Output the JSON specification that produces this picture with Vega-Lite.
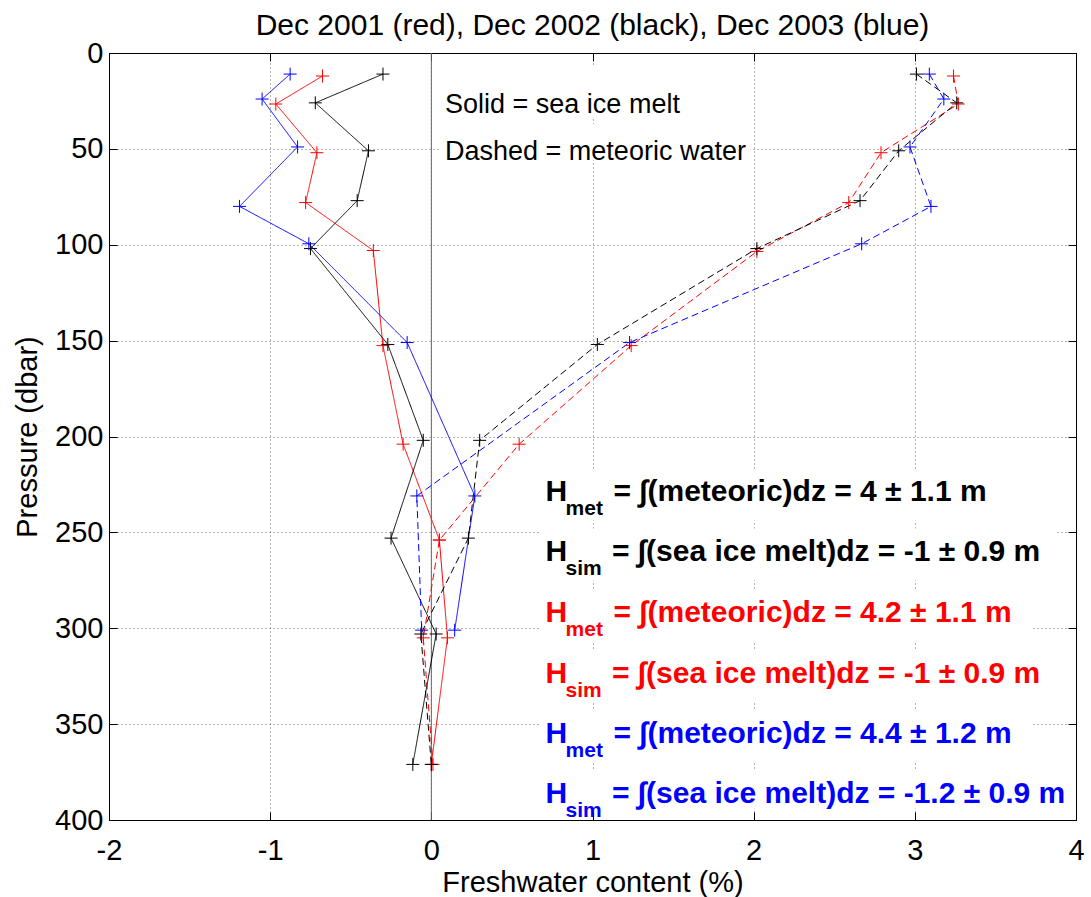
{
  "$schema": "https://vega.github.io/schema/vega-lite/v6.json",
  "width": 967,
  "height": 767,
  "autosize": {"type": "none"},
  "padding": {"left": 109, "top": 53, "right": 15, "bottom": 77},
  "background": "white",
  "title": {"text": "Dec 2001 (red), Dec 2002 (black), Dec 2003 (blue)", "fontSize": 30, "font": "Liberation Sans", "fontWeight": "normal", "color": "black", "offset": -2, "anchor": "middle"},
  "config": {"view": {"stroke": "black", "strokeWidth": 1}, "font": "Liberation Sans"},
  "datasets": {
    "prof": [
      {"yr": "2001", "k": "sim", "p": 12, "f": -0.675},
      {"yr": "2001", "k": "sim", "p": 26.6, "f": -0.965},
      {"yr": "2001", "k": "sim", "p": 52, "f": -0.71},
      {"yr": "2001", "k": "sim", "p": 78, "f": -0.78},
      {"yr": "2001", "k": "sim", "p": 103, "f": -0.36},
      {"yr": "2001", "k": "sim", "p": 152.6, "f": -0.30},
      {"yr": "2001", "k": "sim", "p": 204, "f": -0.175},
      {"yr": "2001", "k": "sim", "p": 254, "f": 0.05},
      {"yr": "2001", "k": "sim", "p": 305, "f": 0.10},
      {"yr": "2001", "k": "sim", "p": 371, "f": 0.0},
      {"yr": "2001", "k": "met", "p": 12, "f": 3.24},
      {"yr": "2001", "k": "met", "p": 26.6, "f": 3.27},
      {"yr": "2001", "k": "met", "p": 52, "f": 2.79},
      {"yr": "2001", "k": "met", "p": 78, "f": 2.59},
      {"yr": "2001", "k": "met", "p": 103.5, "f": 2.02},
      {"yr": "2001", "k": "met", "p": 152.6, "f": 1.24},
      {"yr": "2001", "k": "met", "p": 204, "f": 0.545},
      {"yr": "2001", "k": "met", "p": 254, "f": 0.05},
      {"yr": "2001", "k": "met", "p": 305, "f": -0.05},
      {"yr": "2001", "k": "met", "p": 371, "f": 0.01},
      {"yr": "2002", "k": "sim", "p": 11, "f": -0.30},
      {"yr": "2002", "k": "sim", "p": 26, "f": -0.72},
      {"yr": "2002", "k": "sim", "p": 51, "f": -0.39},
      {"yr": "2002", "k": "sim", "p": 77, "f": -0.46},
      {"yr": "2002", "k": "sim", "p": 102, "f": -0.75},
      {"yr": "2002", "k": "sim", "p": 152, "f": -0.27},
      {"yr": "2002", "k": "sim", "p": 202, "f": -0.05},
      {"yr": "2002", "k": "sim", "p": 253, "f": -0.25},
      {"yr": "2002", "k": "sim", "p": 303, "f": 0.03},
      {"yr": "2002", "k": "sim", "p": 371, "f": -0.115},
      {"yr": "2002", "k": "met", "p": 11, "f": 3.01},
      {"yr": "2002", "k": "met", "p": 26, "f": 3.26},
      {"yr": "2002", "k": "met", "p": 51, "f": 2.90},
      {"yr": "2002", "k": "met", "p": 77, "f": 2.66},
      {"yr": "2002", "k": "met", "p": 102, "f": 2.02},
      {"yr": "2002", "k": "met", "p": 152, "f": 1.03},
      {"yr": "2002", "k": "met", "p": 202, "f": 0.30},
      {"yr": "2002", "k": "met", "p": 253, "f": 0.23},
      {"yr": "2002", "k": "met", "p": 303, "f": -0.065},
      {"yr": "2002", "k": "met", "p": 371, "f": 0.0},
      {"yr": "2003", "k": "sim", "p": 11, "f": -0.876},
      {"yr": "2003", "k": "sim", "p": 24, "f": -1.05},
      {"yr": "2003", "k": "sim", "p": 49, "f": -0.83},
      {"yr": "2003", "k": "sim", "p": 80, "f": -1.19},
      {"yr": "2003", "k": "sim", "p": 99.5, "f": -0.76},
      {"yr": "2003", "k": "sim", "p": 151, "f": -0.15},
      {"yr": "2003", "k": "sim", "p": 231, "f": 0.27},
      {"yr": "2003", "k": "sim", "p": 301, "f": 0.145},
      {"yr": "2003", "k": "met", "p": 11, "f": 3.09},
      {"yr": "2003", "k": "met", "p": 24, "f": 3.18},
      {"yr": "2003", "k": "met", "p": 49, "f": 2.97},
      {"yr": "2003", "k": "met", "p": 80, "f": 3.10},
      {"yr": "2003", "k": "met", "p": 99.5, "f": 2.67},
      {"yr": "2003", "k": "met", "p": 151, "f": 1.23},
      {"yr": "2003", "k": "met", "p": 231, "f": -0.09},
      {"yr": "2003", "k": "met", "p": 301, "f": -0.06}
    ],
    "boxes": [
      {"x1": 0.06, "x2": 1.56, "y1": 7, "y2": 34},
      {"x1": 0.06, "x2": 1.98, "y1": 37, "y2": 56},
      {"x1": 0.67, "x2": 3.55, "y1": 217, "y2": 244},
      {"x1": 0.67, "x2": 3.88, "y1": 248, "y2": 275},
      {"x1": 0.67, "x2": 3.72, "y1": 279.6, "y2": 306.6},
      {"x1": 0.67, "x2": 3.88, "y1": 311, "y2": 338},
      {"x1": 0.67, "x2": 3.72, "y1": 342.6, "y2": 369.6},
      {"x1": 0.67, "x2": 3.98, "y1": 374, "y2": 394}
    ],
    "notes": [
      {"t": "Solid = sea ice melt", "x": 0.085, "y": 31.2},
      {"t": "Dashed = meteoric water", "x": 0.085, "y": 55.7}
    ],
    "hrows": [
      {"yr": "2002", "sub": "met", "rest": "= ∫(meteoric)dz = 4 ± 1.1 m", "xh": 0.708, "xs": 0.833, "xe": 1.130, "yb": 233.7},
      {"yr": "2002", "sub": "sim", "rest": "= ∫(sea ice melt)dz = -1 ± 0.9 m", "xh": 0.708, "xs": 0.833, "xe": 1.121, "yb": 265.1},
      {"yr": "2001", "sub": "met", "rest": "= ∫(meteoric)dz = 4.2 ± 1.1 m", "xh": 0.708, "xs": 0.833, "xe": 1.130, "yb": 296.6},
      {"yr": "2001", "sub": "sim", "rest": "= ∫(sea ice melt)dz = -1 ± 0.9 m", "xh": 0.708, "xs": 0.833, "xe": 1.121, "yb": 328.3},
      {"yr": "2003", "sub": "met", "rest": "= ∫(meteoric)dz = 4.4 ± 1.2 m", "xh": 0.708, "xs": 0.833, "xe": 1.130, "yb": 359.6},
      {"yr": "2003", "sub": "sim", "rest": "= ∫(sea ice melt)dz = -1.2 ± 0.9 m", "xh": 0.708, "xs": 0.833, "xe": 1.121, "yb": 391}
    ],
    "zero": [{"z": 0}]
  },
  "resolve": {"axis": {"x": "independent", "y": "independent"}},
  "layer": [
    {
      "data": {"name": "boxes"},
      "mark": {"type": "rect", "fill": "white", "strokeWidth": 0},
      "encoding": {
        "x": {"field": "x1", "type": "quantitative", "scale": {"domain": [-2, 4], "nice": false, "zero": false},
          "axis": {"orient": "bottom", "values": [-2, -1, 0, 1, 2, 3, 4], "labelExpr": "'' + datum.value", "grid": true, "gridDash": [1, 3], "gridColor": "#000", "gridOpacity": 0.6, "tickSize": -8, "tickColor": "#000", "domainColor": "#000", "labelFontSize": 29, "labelColor": "#000", "labelFont": "Liberation Sans", "labelPadding": 24, "labelFlush": false, "labelOverlap": false, "title": "Freshwater content (%)", "titleFontSize": 29, "titleFontWeight": "normal", "titleColor": "#000", "titleFont": "Liberation Sans", "titlePadding": 3}},
        "x2": {"field": "x2"},
        "y": {"field": "y1", "type": "quantitative", "scale": {"domain": [0, 400], "reverse": true, "nice": false, "zero": false},
          "axis": {"orient": "left", "values": [0, 50, 100, 150, 200, 250, 300, 350, 400], "labelExpr": "'' + datum.value", "grid": true, "gridDash": [1, 3], "gridColor": "#000", "gridOpacity": 0.6, "tickSize": -8, "tickColor": "#000", "domainColor": "#000", "labelFontSize": 29, "labelColor": "#000", "labelFont": "Liberation Sans", "labelPadding": 14, "labelFlush": false, "labelOverlap": false, "title": "Pressure (dbar)", "titleFontSize": 29, "titleFontWeight": "normal", "titleColor": "#000", "titleFont": "Liberation Sans", "titlePadding": 12}},
        "y2": {"field": "y2"}
      }
    },
    {
      "data": {"name": "zero"},
      "mark": {"type": "rule", "color": "#666", "strokeWidth": 1},
      "encoding": {"x": {"field": "z", "type": "quantitative", "scale": {"domain": [-2, 4]}, "axis": null}}
    },
    {
      "data": {"name": "prof"},
      "mark": {"type": "line", "strokeWidth": 1},
      "encoding": {
        "x": {"field": "f", "type": "quantitative", "scale": {"domain": [-2, 4]}, "axis": null},
        "y": {"field": "p", "type": "quantitative", "scale": {"domain": [0, 400], "reverse": true}, "axis": null},
        "color": {"field": "yr", "type": "nominal", "scale": {"domain": ["2001", "2002", "2003"], "range": ["#ff0000", "#000000", "#0000ff"]}, "legend": null},
        "strokeDash": {"field": "k", "type": "nominal", "scale": {"domain": ["sim", "met"], "range": [[1, 0], [7, 4]]}, "legend": null},
        "order": {"field": "p", "type": "quantitative"}
      }
    },
    {
      "data": {"name": "prof"},
      "mark": {"type": "point", "shape": "M-1,0L1,0M0,-1L0,1", "filled": false, "size": 169, "strokeWidth": 1, "opacity": 1},
      "encoding": {
        "x": {"field": "f", "type": "quantitative", "scale": {"domain": [-2, 4]},
          "axis": {"orient": "top", "values": [-2, -1, 0, 1, 2, 3, 4], "labels": false, "grid": false, "tickSize": -8, "tickColor": "#000", "domainColor": "#000", "title": null}},
        "y": {"field": "p", "type": "quantitative", "scale": {"domain": [0, 400], "reverse": true},
          "axis": {"orient": "right", "values": [0, 50, 100, 150, 200, 250, 300, 350, 400], "labels": false, "grid": false, "tickSize": -8, "tickColor": "#000", "domainColor": "#000", "title": null}},
        "color": {"field": "yr", "type": "nominal", "scale": {"domain": ["2001", "2002", "2003"], "range": ["#ff0000", "#000000", "#0000ff"]}, "legend": null}
      }
    },
    {
      "data": {"name": "notes"},
      "mark": {"type": "text", "align": "left", "baseline": "alphabetic", "fontSize": 27, "font": "Liberation Sans", "color": "black"},
      "encoding": {
        "x": {"field": "x", "type": "quantitative", "scale": {"domain": [-2, 4]}, "axis": null},
        "y": {"field": "y", "type": "quantitative", "scale": {"domain": [0, 400], "reverse": true}, "axis": null},
        "text": {"field": "t"}
      }
    },
    {
      "data": {"name": "hrows"},
      "mark": {"type": "text", "align": "left", "baseline": "alphabetic", "fontSize": 30, "fontWeight": "bold", "font": "Liberation Sans"},
      "encoding": {
        "x": {"field": "xh", "type": "quantitative", "scale": {"domain": [-2, 4]}, "axis": null},
        "y": {"field": "yb", "type": "quantitative", "scale": {"domain": [0, 400], "reverse": true}, "axis": null},
        "text": {"value": "H"},
        "color": {"field": "yr", "type": "nominal", "scale": {"domain": ["2001", "2002", "2003"], "range": ["#ff0000", "#000000", "#0000ff"]}, "legend": null}
      }
    },
    {
      "data": {"name": "hrows"},
      "mark": {"type": "text", "align": "left", "baseline": "alphabetic", "fontSize": 21, "fontWeight": "bold", "font": "Liberation Sans", "dy": 14},
      "encoding": {
        "x": {"field": "xs", "type": "quantitative", "scale": {"domain": [-2, 4]}, "axis": null},
        "y": {"field": "yb", "type": "quantitative", "scale": {"domain": [0, 400], "reverse": true}, "axis": null},
        "text": {"field": "sub"},
        "color": {"field": "yr", "type": "nominal", "scale": {"domain": ["2001", "2002", "2003"], "range": ["#ff0000", "#000000", "#0000ff"]}, "legend": null}
      }
    },
    {
      "data": {"name": "hrows"},
      "mark": {"type": "text", "align": "left", "baseline": "alphabetic", "fontSize": 30, "fontWeight": "bold", "font": "Liberation Sans"},
      "encoding": {
        "x": {"field": "xe", "type": "quantitative", "scale": {"domain": [-2, 4]}, "axis": null},
        "y": {"field": "yb", "type": "quantitative", "scale": {"domain": [0, 400], "reverse": true}, "axis": null},
        "text": {"field": "rest"},
        "color": {"field": "yr", "type": "nominal", "scale": {"domain": ["2001", "2002", "2003"], "range": ["#ff0000", "#000000", "#0000ff"]}, "legend": null}
      }
    }
  ]
}
